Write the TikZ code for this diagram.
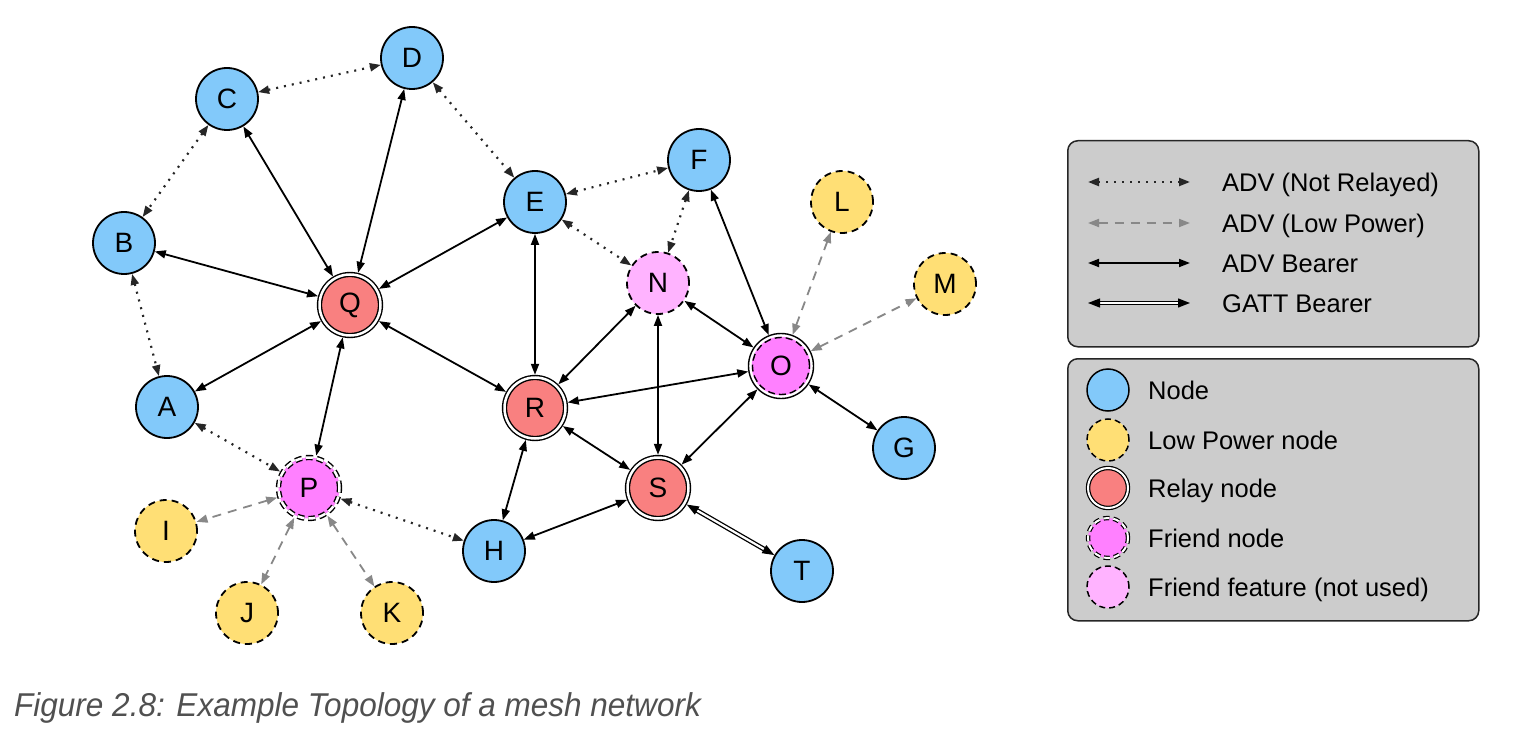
\documentclass[tikz,border=0pt]{standalone}
\usepackage{fontspec}
\setmainfont{Liberation Sans}
\usetikzlibrary{arrows.meta}
\definecolor{nodeblue}{HTML}{82C9FA}
\definecolor{lpyellow}{HTML}{FFDF75}
\definecolor{relayred}{HTML}{F98080}
\definecolor{friendmag}{HTML}{FF80FF}
\definecolor{featpink}{HTML}{FFB3FF}
\definecolor{legendgray}{HTML}{CCCCCC}
\definecolor{lpgray}{HTML}{888888}
\definecolor{captiongray}{HTML}{505050}
\begin{document}
\begin{tikzpicture}[x=1pt,y=-1pt,
  base/.style={circle, inner sep=0pt, text=black, font=\fontsize{28}{28}\selectfont},
  plain/.style={base, minimum size=62pt, fill=nodeblue, draw=black, line width=1.8pt},
  lowpow/.style={base, minimum size=62pt, fill=lpyellow, draw=black, line width=1.8pt, dash pattern=on 7pt off 5pt},
  feat/.style={base, minimum size=62pt, fill=featpink, draw=black, line width=1.8pt, dash pattern=on 7pt off 5pt},
  relay/.style={base, minimum size=61pt, fill=relayred, draw=black, line width=1.4pt, double=white, double distance=2.5pt, outer sep=2.7pt},
  friendP/.style={base, minimum size=61pt, fill=friendmag, draw=black, line width=1.4pt, double=white, double distance=2.5pt, dash pattern=on 7pt off 4pt, outer sep=2.7pt},
  friendO/.style={base, minimum size=65pt, fill=white, draw=black, line width=1.4pt,
    path picture={\fill[friendmag] (path picture bounding box.center) circle (29.3pt);
                  \draw[black, line width=1.4pt, dash pattern=on 7pt off 4pt] (path picture bounding box.center) circle (28.5pt);}},
  bear/.style={draw=black, line width=1.8pt, {Triangle[length=11pt,width=8pt]}-{Triangle[length=11pt,width=8pt]}},
  notrel/.style={draw=black!85, line width=2.2pt, dash pattern=on 2pt off 6pt, {Triangle[length=11pt,width=8pt]}-{Triangle[length=11pt,width=8pt]}},
  lowp/.style={draw=lpgray, line width=1.8pt, dash pattern=on 9pt off 7pt, {Triangle[length=11pt,width=8pt]}-{Triangle[length=11pt,width=8pt]}},
  gatt/.style={draw=black, line width=1.3pt, double=white, double distance=2.2pt, {Triangle[length=12pt,width=9pt]}-{Triangle[length=12pt,width=9pt]}},
  legbox/.style={draw=black!85, line width=1.5pt, fill=legendgray, rounded corners=10pt, anchor=north west, inner sep=0pt},
  legtext/.style={anchor=base west, inner sep=0pt, font=\fontsize{25.5}{25.5}\selectfont},
  lplain/.style={plain, minimum size=42pt, line width=1.5pt},
  llow/.style={lowpow, minimum size=42pt, line width=1.5pt, dash pattern=on 6pt off 4pt},
  lrelay/.style={relay, minimum size=40pt, line width=1.2pt, double distance=2pt},
  lfriend/.style={friendP, minimum size=40pt, line width=1.2pt, double distance=2pt, dash pattern=on 6pt off 4pt},
  lfeat/.style={feat, minimum size=42pt, line width=1.5pt, dash pattern=on 6pt off 4pt}
]
\useasboundingbox (0,0) rectangle (1526,738);

% nodes
\node[plain] (D) at (412,58) {D};
\node[plain] (C) at (227,99) {C};
\node[plain] (B) at (124,243) {B};
\node[plain] (A) at (167,407) {A};
\node[relay] (Q) at (350,305) {Q};
\node[plain] (E) at (535,202) {E};
\node[plain] (F) at (699,160) {F};
\node[feat] (N) at (658,283) {N};
\node[lowpow] (L) at (842,202) {L};
\node[lowpow] (M) at (945,284) {M};
\node[friendO] (O) at (781,366) {O};
\node[plain] (G) at (904,448) {G};
\node[relay] (R) at (535,408) {R};
\node[relay] (S) at (658,488) {S};
\node[plain] (H) at (494,551) {H};
\node[plain] (T) at (802,571) {T};
\node[friendP] (P) at (309,488) {P};
\node[lowpow] (I) at (166,531) {I};
\node[lowpow] (J) at (247,613) {J};
\node[lowpow] (K) at (392,613) {K};

% not relayed
\draw[notrel] (C) -- (D);
\draw[notrel] (C) -- (B);
\draw[notrel] (B) -- (A);
\draw[notrel] (D) -- (E);
\draw[notrel] (E) -- (F);
\draw[notrel] (E) -- (N);
\draw[notrel] (F) -- (N);
\draw[notrel] (A) -- (P);
\draw[notrel] (P) -- (H);

% low power
\draw[lowp] (O) -- (L);
\draw[lowp] (O) -- (M);
\draw[lowp] (P) -- (I);
\draw[lowp] (P) -- (J);
\draw[lowp] (P) -- (K);

% ADV bearer
\draw[bear] (Q) -- (B);
\draw[bear] (Q) -- (C);
\draw[bear] (Q) -- (D);
\draw[bear] (Q) -- (E);
\draw[bear] (Q) -- (A);
\draw[bear] (Q) -- (P);
\draw[bear] (Q) -- (R);
\draw[bear] (E) -- (R);
\draw[bear] (R) -- (N);
\draw[bear] (R) -- (O);
\draw[bear] (R) -- (S);
\draw[bear] (R) -- (H);
\draw[bear] (N) -- (S);
\draw[bear] (N) -- (O);
\draw[bear] (F) -- (O);
\draw[bear] (O) -- (S);
\draw[bear] (O) -- (G);
\draw[bear] (S) -- (H);

% GATT bearer
\draw[gatt] (S) -- (T);

% legend 1
\node[legbox, minimum width=411pt, minimum height=206pt] (box1) at (1067,140) {};
\coordinate (a1) at (1088,182); \coordinate (b1) at (1190,182);
\coordinate (a2) at (1088,223); \coordinate (b2) at (1190,223);
\coordinate (a3) at (1088,263); \coordinate (b3) at (1190,263);
\coordinate (a4) at (1088,303); \coordinate (b4) at (1190,303);
\draw[notrel] (a1) -- (b1);
\draw[lowp] (a2) -- (b2);
\draw[bear] (a3) -- (b3);
\draw[gatt] (a4) -- (b4);
\node[legtext] (t1) at (1222,191.5) {ADV (Not Relayed)};
\node[legtext] (t2) at (1222,232.5) {ADV (Low Power)};
\node[legtext] (t3) at (1222,272.5) {ADV Bearer};
\node[legtext] (t4) at (1222,312.5) {GATT Bearer};

% legend 2
\node[legbox, minimum width=411pt, minimum height=262pt] (box2) at (1067,358) {};
\node[lplain] (k1) at (1108,390) {};
\node[llow] (k2) at (1108,440) {};
\node[lrelay] (k3) at (1108,488) {};
\node[lfriend] (k4) at (1108,538) {};
\node[lfeat] (k5) at (1108,587) {};
\node[legtext] (u1) at (1148,399.5) {Node};
\node[legtext] (u2) at (1148,449.5) {Low Power node};
\node[legtext] (u3) at (1148,497.5) {Relay node};
\node[legtext] (u4) at (1148,547.5) {Friend node};
\node[legtext] (u5) at (1148,596.5) {Friend feature (not used)};

% caption
\node[anchor=base west, inner sep=0pt, text=captiongray, xscale=0.955, font=\fontsize{33}{33}\selectfont\itshape] (cap) at (14,716) {Figure 2.8: Example Topology of a mesh network};
\end{tikzpicture}
\end{document}
